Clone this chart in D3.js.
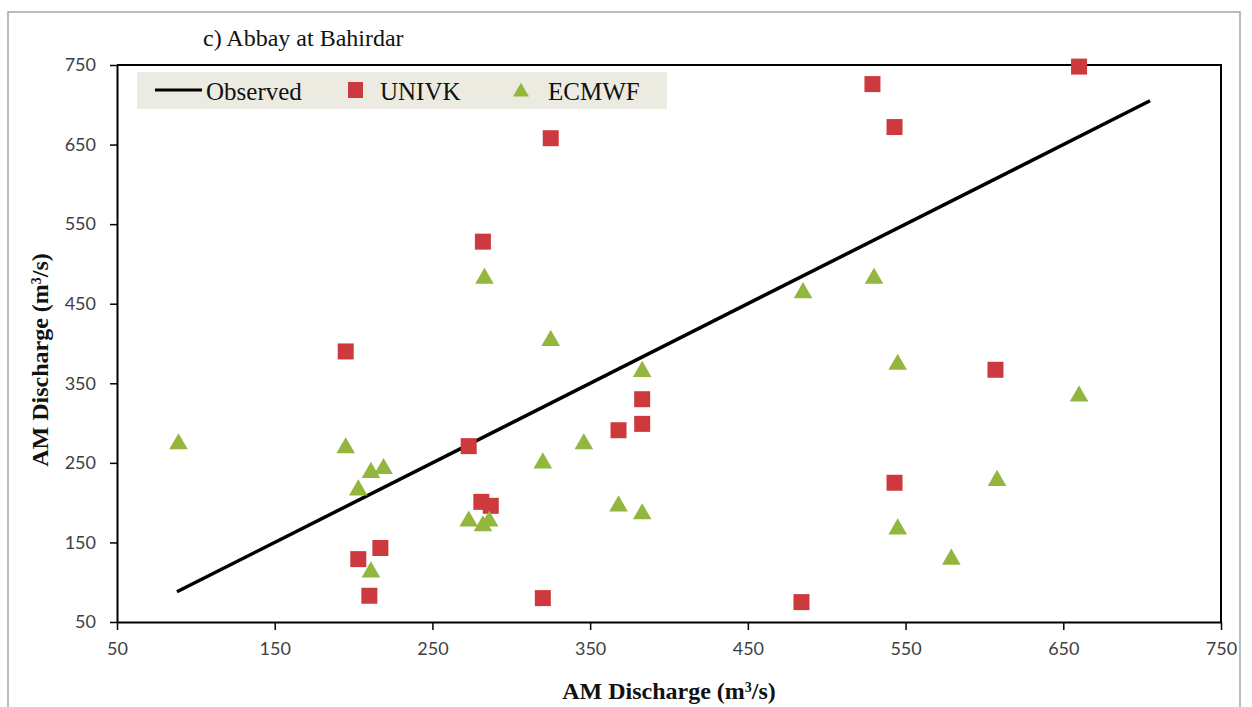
<!DOCTYPE html>
<html>
<head>
<meta charset="utf-8">
<script src="https://cdn.jsdelivr.net/npm/d3@7"></script>
<style>
  body { margin: 0; background: #fff; }
  svg { display: block; }
</style>
</head>
<body>
<svg id="drawing_region"></svg>
<script>
// chart values
const title = "c) Abbay at Bahirdar";
const axisTicks = [50, 150, 250, 350, 450, 550, 650, 750];
const observedRange = [88, 705];

const univkObs = [195, 203, 210, 217, 273, 281, 287, 282, 320, 325, 368, 383, 383, 484, 529, 543, 543, 607, 660];
const univkSim = [390, 129, 83, 143, 271, 201, 196, 528, 80, 658, 291, 330, 299, 75, 726, 672, 225, 367, 748];

const ecmwfObs = [89, 195, 203, 211, 219, 211, 273, 282, 286, 283, 320, 325, 346, 368, 383, 383, 485, 530, 545, 545, 579, 608, 660];
const ecmwfSim = [275, 270, 217, 239, 244, 114, 178, 172, 178, 483, 251, 405, 275, 197, 187, 366, 465, 483, 375, 168, 130, 229, 335];

const legendItems = ["Observed", "UNIVK", "ECMWF"];

const config = {
    width: 1252,
    height: 707,
    margin: {top: 65, right: 31, bottom: 85, left: 117}
};

const red = '#cc3a3e';
const green = '#92b63e';

const svg = d3.select('#drawing_region')
    .attr('width', config.width)
    .attr('height', config.height);

// outer frame of the figure
svg.append('rect')
    .attr('x', 8).attr('y', 12)
    .attr('width', 1232).attr('height', 720)
    .attr('fill', 'none')
    .attr('stroke', '#a6a6a6')
    .attr('stroke-width', 1.5);

const inner_width = config.width - config.margin.left - config.margin.right;
const inner_height = config.height - config.margin.top - config.margin.bottom;

const chart = svg.append('g')
    .attr('transform', `translate(${config.margin.left}, ${config.margin.top})`);

const xscale = d3.scaleLinear().domain([50, 750]).range([0, inner_width]);
const yscale = d3.scaleLinear().domain([50, 750]).range([inner_height, 0]);

const xaxis = d3.axisBottom(xscale).tickValues(axisTicks).tickSize(8).tickSizeOuter(0).tickPadding(12);
const yaxis = d3.axisLeft(yscale).tickValues(axisTicks).tickSize(7).tickSizeOuter(0).tickPadding(14);

const xaxis_group = chart.append('g')
    .attr('transform', `translate(0, ${inner_height})`)
    .call(xaxis);

const yaxis_group = chart.append('g')
    .call(yaxis);

[xaxis_group, yaxis_group].forEach(g => {
    g.select('.domain').attr('stroke', '#000').attr('stroke-width', 2);
    g.selectAll('.tick line').attr('stroke', '#000').attr('stroke-width', 1.5);
    g.selectAll('.tick text')
        .attr('fill', '#404040')
        .style('font-family', 'Lato, "Open Sans", sans-serif')
        .style('font-size', '18px');
});

// top and right border of the plot box
chart.append('path')
    .attr('d', `M0,0H${inner_width}V${inner_height}`)
    .attr('fill', 'none')
    .attr('stroke', '#000')
    .attr('stroke-width', 2);

// observed 1:1 line
chart.append('line')
    .attr('x1', xscale(observedRange[0])).attr('y1', yscale(observedRange[0]))
    .attr('x2', xscale(observedRange[1])).attr('y2', yscale(observedRange[1]))
    .attr('stroke', '#000')
    .attr('stroke-width', 3.5);

const sq = 16;
chart.selectAll('.univk')
    .data(univkObs.map((d, i) => ({x: d, y: univkSim[i]})))
    .enter()
    .append('rect')
    .attr('class', 'univk')
    .attr('x', d => xscale(d.x) - sq / 2)
    .attr('y', d => yscale(d.y) - sq / 2)
    .attr('width', sq).attr('height', sq)
    .attr('fill', red);

const tri = d3.symbol().type(d3.symbolTriangle).size(150);
chart.selectAll('.ecmwf')
    .data(ecmwfObs.map((d, i) => ({x: d, y: ecmwfSim[i]})))
    .enter()
    .append('path')
    .attr('class', 'ecmwf')
    .attr('d', tri)
    .attr('transform', d => `translate(${xscale(d.x)}, ${yscale(d.y) + 1})`)
    .attr('fill', green);

// legend
const legend = svg.append('g');
legend.append('rect')
    .attr('x', 137).attr('y', 72)
    .attr('width', 530).attr('height', 37)
    .attr('fill', '#ecebe1');

const legendFont = 'Liberation Serif, "Times New Roman", serif';
legend.append('line')
    .attr('x1', 155).attr('x2', 202).attr('y1', 90).attr('y2', 90)
    .attr('stroke', '#000').attr('stroke-width', 3);
legend.append('rect')
    .attr('x', 348).attr('y', 82).attr('width', 15).attr('height', 16)
    .attr('fill', red);
legend.append('path')
    .attr('d', d3.symbol().type(d3.symbolTriangle).size(110))
    .attr('transform', 'translate(521, 92)')
    .attr('fill', green);

const legendX = [206, 380, 548];
legend.selectAll('.ltext')
    .data(legendItems)
    .enter()
    .append('text')
    .attr('x', (d, i) => legendX[i])
    .attr('y', 100)
    .style('font-family', legendFont)
    .style('font-size', '25px')
    .attr('fill', '#111')
    .text(d => d);

// title
svg.append('text')
    .attr('x', 203).attr('y', 46)
    .style('font-family', legendFont)
    .style('font-size', '24px')
    .attr('fill', '#111')
    .text(title);

// axis titles
const xlab = svg.append('text')
    .attr('x', config.margin.left + inner_width / 2)
    .attr('y', 699)
    .attr('text-anchor', 'middle')
    .style('font-family', legendFont)
    .style('font-size', '24px')
    .style('font-weight', 'bold')
    .attr('fill', '#111');
xlab.append('tspan').text('AM Discharge  (m');
xlab.append('tspan').attr('baseline-shift', 'super').style('font-size', '14px').text('3');
xlab.append('tspan').text('/s)');

const ylab = svg.append('text')
    .attr('transform', 'translate(48, 360) rotate(-90)')
    .attr('text-anchor', 'middle')
    .style('font-family', legendFont)
    .style('font-size', '24px')
    .style('font-weight', 'bold')
    .attr('fill', '#111');
ylab.append('tspan').text('AM Discharge  (m');
ylab.append('tspan').attr('baseline-shift', 'super').style('font-size', '14px').text('3');
ylab.append('tspan').text('/s)');
</script>
</body>
</html>
